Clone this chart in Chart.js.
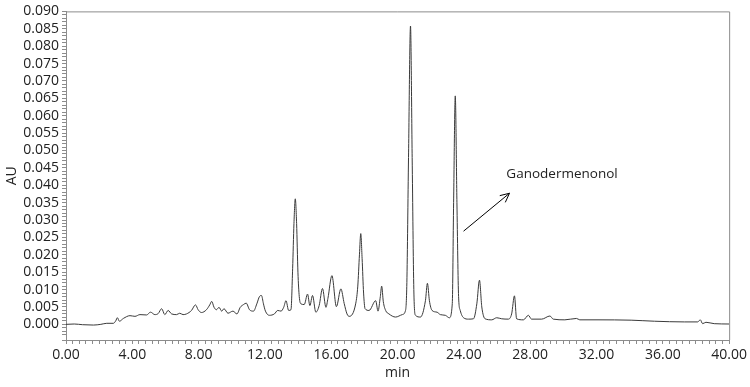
<!DOCTYPE html>
<html>
<head>
<meta charset="utf-8">
<script src="https://cdn.jsdelivr.net/npm/chart.js@4.4.1/dist/chart.umd.min.js"></script>
<style>
  html, body { margin: 0; padding: 0; background: #fff; }
  #wrap { width: 750px; height: 387px; position: relative; }
</style>
</head>
<body>
<div id="wrap"><canvas id="myChart"></canvas></div>
<script>
// retention time (min) and absorbance (AU)
const timeMin = [
  0.00, 0.50, 1.00, 1.66, 2.10, 2.46, 2.86, 3.00, 3.10, 3.22, 3.46, 3.86, 4.16, 4.46, 4.86,
  5.10, 5.36, 5.56, 5.77, 5.96, 6.16, 6.37, 6.67, 6.86, 7.06, 7.27, 7.57, 7.81, 7.97, 8.17,
  8.47, 8.67, 8.79, 8.93, 9.07, 9.23, 9.39, 9.53, 9.77, 10.07, 10.31, 10.51, 10.71, 10.87, 11.07,
  11.31, 11.51, 11.67, 11.79, 11.91, 12.03, 12.27, 12.57, 12.77, 12.97, 13.13, 13.27, 13.43, 13.57,
  13.67, 13.75, 13.83, 13.91, 13.99, 14.07, 14.17, 14.37, 14.57, 14.71, 14.87, 15.07, 15.27, 15.47,
  15.68, 15.80, 16.04, 16.31, 16.58, 16.78, 16.95, 17.08, 17.48, 17.60, 17.70, 17.78, 17.86, 17.95,
  18.04, 18.28, 18.68, 18.82, 18.96, 19.04, 19.14, 19.28, 19.48, 19.88, 20.28, 20.48, 20.56, 20.66,
  20.78, 20.88, 20.98, 21.08, 21.38, 21.68, 21.80, 21.92, 22.08, 22.38, 22.58, 22.88, 23.12, 23.30,
  23.38, 23.48, 23.58, 23.68, 23.78, 23.98, 24.28, 24.58, 24.78, 24.94, 25.08, 25.28, 25.68, 25.98,
  26.28, 26.68, 26.88, 27.05, 27.18, 27.59, 27.89, 28.08, 28.69, 29.19, 29.39, 30.09, 30.79, 30.99,
  32.09, 34.09, 35.50, 37.30, 38.10, 38.26, 38.40, 38.60, 39.10, 40.00
];
const absorbance = [
  0.0000, 0.0001, -0.0001, -0.0002, 0.0000, 0.0003, 0.0003, 0.0010, 0.0019, 0.0009, 0.0017, 0.0025, 0.0023, 0.0028, 0.0027,
  0.0035, 0.0028, 0.0031, 0.0045, 0.0028, 0.0040, 0.0030, 0.0028, 0.0032, 0.0028, 0.0030, 0.0040, 0.0056, 0.0042, 0.0034,
  0.0042, 0.0056, 0.0066, 0.0049, 0.0042, 0.0049, 0.0038, 0.0045, 0.0032, 0.0038, 0.0030, 0.0049, 0.0057, 0.0061, 0.0042,
  0.0038, 0.0059, 0.0080, 0.0083, 0.0059, 0.0038, 0.0026, 0.0030, 0.0040, 0.0038, 0.0049, 0.0068, 0.0040, 0.0042,
  0.0160, 0.0290, 0.0361, 0.0290, 0.0150, 0.0080, 0.0059, 0.0057, 0.0087, 0.0054, 0.0083, 0.0035, 0.0054, 0.0103,
  0.0049, 0.0075, 0.0140, 0.0051, 0.0102, 0.0060, 0.0030, 0.0023, 0.0061, 0.0110, 0.0200, 0.0261, 0.0190, 0.0090,
  0.0045, 0.0040, 0.0068, 0.0038, 0.0080, 0.0110, 0.0065, 0.0040, 0.0030, 0.0021, 0.0028, 0.0040, 0.0120, 0.0480,
  0.0858, 0.0480, 0.0100, 0.0026, 0.0021, 0.0068, 0.0118, 0.0068, 0.0040, 0.0035, 0.0028, 0.0026, 0.0019, 0.0060,
  0.0350, 0.0657, 0.0350, 0.0080, 0.0040, 0.0019, 0.0015, 0.0016, 0.0059, 0.0127, 0.0050, 0.0016, 0.0013, 0.0019,
  0.0016, 0.0015, 0.0030, 0.0082, 0.0016, 0.0013, 0.0026, 0.0015, 0.0015, 0.0024, 0.0015, 0.0013, 0.0017, 0.0013,
  0.0013, 0.0012, 0.0009, 0.0007, 0.0007, 0.0013, 0.0002, 0.0006, 0.0002, 0.0001
];

// annotation: label and arrow next to the 23.5 min peak
const noteText = "Ganodermenonol";
const noteAt = { x: 26.56, y: 0.0431 };
const arrowFrom = { x: 23.98, y: 0.0268 };
const arrowTo = { x: 26.75, y: 0.0377 };

const frameColor = "#8c8c8c";
const fontFamily = "'Open Sans', 'Liberation Sans', sans-serif";

const points = timeMin.map((t, i) => ({ x: t, y: absorbance[i] }));

// top and right edges of the plot frame
const framePlugin = {
  id: "frame",
  afterDraw(chart) {
    const a = chart.chartArea;
    const ctx = chart.ctx;
    ctx.save();
    ctx.strokeStyle = frameColor;
    ctx.lineWidth = 1;
    ctx.beginPath();
    ctx.moveTo(a.left, a.top + 0.5);
    ctx.lineTo(a.right + 0.5, a.top + 0.5);
    ctx.lineTo(a.right + 0.5, a.bottom);
    ctx.stroke();
    ctx.restore();
  },
};

const notePlugin = {
  id: "note",
  afterDatasetsDraw(chart) {
    const xs = chart.scales.x, ys = chart.scales.y, ctx = chart.ctx;
    const x1 = xs.getPixelForValue(arrowFrom.x), y1 = ys.getPixelForValue(arrowFrom.y);
    const x2 = xs.getPixelForValue(arrowTo.x), y2 = ys.getPixelForValue(arrowTo.y);
    const ang = Math.atan2(y2 - y1, x2 - x1);
    ctx.save();
    ctx.strokeStyle = "#000";
    ctx.lineWidth = 1;
    ctx.beginPath();
    ctx.moveTo(x1, y1);
    ctx.lineTo(x2, y2);
    ctx.moveTo(x2 - 10 * Math.cos(ang - 0.45), y2 - 10 * Math.sin(ang - 0.45));
    ctx.lineTo(x2, y2);
    ctx.lineTo(x2 - 10 * Math.cos(ang + 0.45), y2 - 10 * Math.sin(ang + 0.45));
    ctx.stroke();
    ctx.fillStyle = "#222";
    ctx.font = "13.5px " + fontFamily;
    ctx.textBaseline = "middle";
    ctx.textAlign = "left";
    ctx.fillText(noteText, xs.getPixelForValue(noteAt.x), ys.getPixelForValue(noteAt.y));
    ctx.restore();
  },
};

const config = {
  type: "line",
  data: {
    datasets: [
      {
        label: "AU",
        data: points,
        borderColor: "#3a3a3a",
        borderWidth: 1,
        pointRadius: 0,
        cubicInterpolationMode: "monotone",
        fill: false,
      },
    ],
  },
  options: {
    responsive: true,
    maintainAspectRatio: false,
    animation: false,
    layout: { padding: { left: 0, right: 18, top: 7, bottom: 2 } },
    plugins: {
      legend: { display: false },
      tooltip: { enabled: false },
    },
    scales: {
      x: {
        type: "linear",
        min: 0,
        max: 40,
        afterFit(scale) { scale.height = 45; },
        border: { color: frameColor },
        grid: { drawOnChartArea: false, tickLength: 4, color: frameColor },
        ticks: {
          stepSize: 0.4,
          autoSkip: false,
          maxRotation: 0,
          color: "#222",
          font: { family: fontFamily, size: 14 },
          callback: (v) => (Math.round(v * 10) % 40 === 0 ? v.toFixed(2) : ""),
        },
        title: { display: true, text: "min", color: "#222", font: { family: fontFamily, size: 14 } },
      },
      y: {
        min: -0.0045,
        max: 0.09,
        afterFit(scale) { scale.width = 66; },
        border: { color: frameColor },
        grid: { drawOnChartArea: false, tickLength: 4, color: frameColor },
        ticks: {
          stepSize: 0.001,
          autoSkip: false,
          color: "#222",
          font: { family: fontFamily, size: 14 },
          callback: (v) => (v > -1e-9 && Math.round(v * 1000) % 5 === 0 ? v.toFixed(3) : ""),
        },
        title: { display: true, text: "AU", color: "#222", font: { family: fontFamily, size: 14 } },
      },
    },
  },
  plugins: [framePlugin, notePlugin],
};

const myChart = new Chart(document.getElementById("myChart"), config);
</script>
</body>
</html>
